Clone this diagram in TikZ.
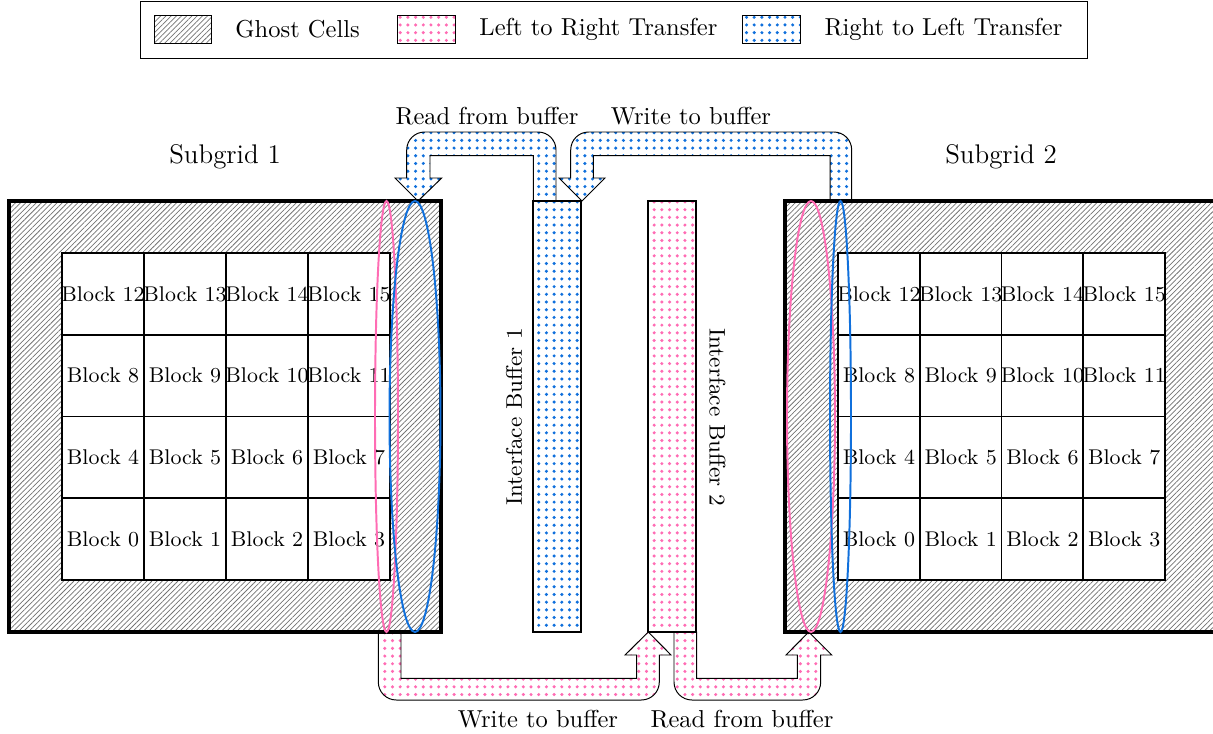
\documentclass[tikz,border=0pt]{standalone}
\usetikzlibrary{patterns,patterns.meta}
\definecolor{bluC}{RGB}{16,112,220}
\definecolor{pinkC}{RGB}{255,108,180}
\begin{document}
\begin{tikzpicture}[x=0.408pt,y=-0.408pt,
  ghost/.style={pattern={Lines[angle=45,distance=1.5pt,line width=0.3pt]},pattern color=black!55},
  bdots/.style={pattern={Dots[distance=3.14pt,radius=0.7pt]},pattern color=bluC},
  pdots/.style={pattern={Dots[distance=3.14pt,radius=0.7pt]},pattern color=pinkC},
  subgridbox/.style={draw=black,ultra thick,ghost},
  cellbox/.style={draw=black,thick,fill=white},
  blocklbl/.style={inner sep=0pt,font=\fontsize{8.7}{10}\selectfont},
  bufbox/.style={draw=black,very thick},
  blockarrow/.style={draw=black,thin},
  lbl/.style={inner sep=0pt,font=\normalsize},
  ellp/.style={draw=pinkC,thick},
  ellb/.style={draw=bluC,thick}]
\useasboundingbox (0,0) rectangle (1213,733);

% legend
\draw[thin] (140,1) rectangle (1087,58);
\draw[thin,ghost] (154,15) rectangle (211.7,43.3);
\node[lbl,anchor=west] (lgA) at (235,29) {Ghost Cells};
\draw[thin,pdots] (397.7,15) rectangle (455.7,43.3);
\node[lbl,anchor=west] (lgB) at (479,29) {Left to Right Transfer};
\draw[thin,bdots] (742.3,15) rectangle (800.7,43.3);
\node[lbl,anchor=west] (lgC) at (824,29) {Right to Left Transfer};

% block arrows
\draw[blockarrow,bdots] (556,201) -- (556,150) .. controls (556,140) and (548,132) .. (538,132) -- (424.7,132)
  .. controls (414.7,132) and (406.7,140) .. (406.7,150) -- (406.7,178) -- (395,178) -- (418,201) -- (441.7,178)
  -- (430,178) -- (430,155.7) -- (533.3,155.7) -- (533.3,201) -- cycle;
\draw[blockarrow,bdots] (851.7,201) -- (851.7,150) .. controls (851.7,140) and (843.7,132) .. (833.7,132) -- (588.7,132)
  .. controls (578.7,132) and (570.7,140) .. (570.7,150) -- (570.7,178) -- (559,178) -- (582,201) -- (605,178)
  -- (593.3,178) -- (593.3,155.7) -- (830,155.7) -- (830,201) -- cycle;
\draw[blockarrow,pdots] (378.3,632) -- (378.3,682) .. controls (378.3,692) and (386.3,700) .. (396.3,700) -- (641.3,700)
  .. controls (651.3,700) and (659.3,692) .. (659.3,682) -- (659.3,655) -- (671,655) -- (648.3,632) -- (625,655)
  -- (636.7,655) -- (636.7,678.3) -- (401,678.3) -- (401,632) -- cycle;
\draw[blockarrow,pdots] (674,632) -- (674,682) .. controls (674,692) and (682,700) .. (692,700) -- (802.7,700)
  .. controls (812.7,700) and (820.7,692) .. (820.7,682) -- (820.7,655) -- (831.7,655) -- (808.7,632) -- (786,655)
  -- (797.3,655) -- (797.3,678.3) -- (696.7,678.3) -- (696.7,632) -- cycle;

\node[lbl] (tA) at (487,116) {Read from buffer};
\node[lbl] (tB) at (691,116) {Write to buffer};
\node[lbl] (tC) at (538,719) {Write to buffer};
\node[lbl] (tD) at (742,719) {Read from buffer};

% subgrids
\draw[subgridbox] (9,201) rectangle (441,632);
\draw[subgridbox] (785,201) rectangle (1217,632);
\node[inner sep=0pt,font=\fontsize{11}{13}\selectfont] (sg1) at (225,157) {Subgrid 1};
\node[inner sep=0pt,font=\fontsize{11}{13}\selectfont] (sg2) at (1001,157) {Subgrid 2};

\foreach \i in {0,...,15}{
  \pgfmathtruncatemacro\cc{mod(\i,4)}
  \pgfmathtruncatemacro\rr{div(\i,4)}
  \draw[cellbox] ({62+82*\cc},{580-81.75*\rr}) rectangle ++(82,-81.75);
  \node[blocklbl] (L\i) at ({103+82*\cc},{580-81.75*\rr-40.9}) {Block \i};
  \draw[cellbox] ({838+81.75*\cc},{580-81.75*\rr}) rectangle ++(81.75,-81.75);
  \node[blocklbl] (R\i) at ({878.9+81.75*\cc},{580-81.75*\rr-40.9}) {Block \i};
}

% interface buffers
\draw[bufbox,bdots] (533,201) rectangle (581,632);
\draw[bufbox,pdots] (648,201) rectangle (696,632);
\node[inner sep=0pt,rotate=90,font=\fontsize{9.2}{11}\selectfont] (ib1) at (514,417) {Interface Buffer 1};
\node[inner sep=0pt,rotate=-90,font=\fontsize{9.2}{11}\selectfont] (ib2) at (717.5,417) {Interface Buffer 2};

% ellipses
\draw[ellp] (386.5,416.5) ellipse [x radius=11.5, y radius=215.5];
\draw[ellb] (415,416.5) ellipse [x radius=25.5, y radius=215.5];
\draw[ellp] (811,416.5) ellipse [x radius=24, y radius=215.5];
\draw[ellb] (840.5,416.5) ellipse [x radius=10.5, y radius=215.5];
\end{tikzpicture}
\end{document}
